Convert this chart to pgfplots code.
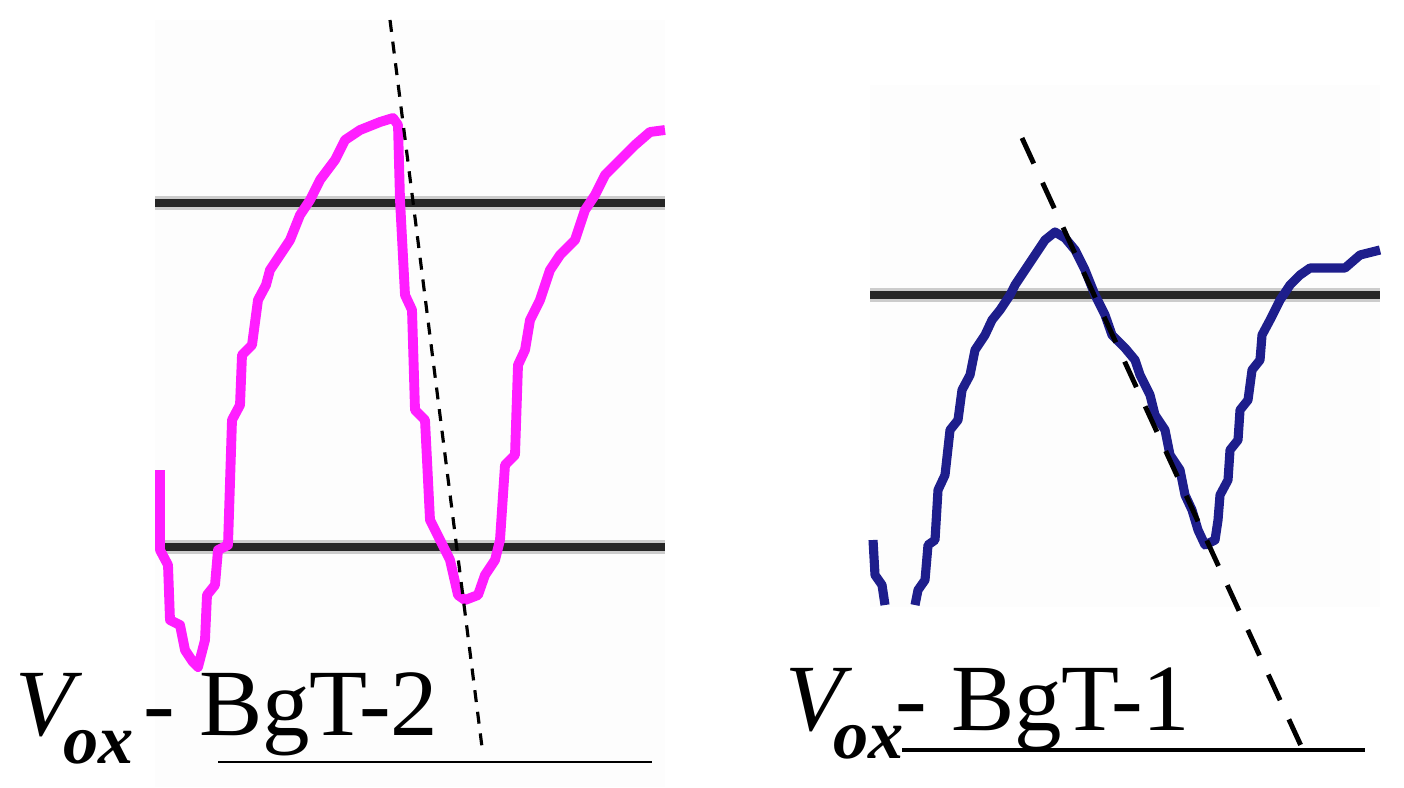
\documentclass[border=0pt]{standalone}
\usepackage{pgfplots}
\pgfplotsset{compat=1.18}
\usepackage{fontspec}
\setmainfont{Liberation Serif}

% pixel grid of the reference: x 0..1404, y 0..787 (y measured upward)
\definecolor{magtrace}{RGB}{255,30,255}
\definecolor{bluetrace}{RGB}{30,30,140}
\definecolor{bgfaint}{RGB}{253,253,253}

\begin{document}
\begin{tikzpicture}
\begin{axis}[
  scale only axis, width=14.04cm, height=7.87cm,
  xmin=0, xmax=1404, ymin=0, ymax=787,
  hide axis, clip=false,
]
% faint panel backgrounds
\addplot[fill=bgfaint, draw=none] coordinates {(155,0) (665,0) (665,767) (155,767)} \closedcycle;
\addplot[fill=bgfaint, draw=none] coordinates {(870,180) (1380,180) (1380,702) (870,702)} \closedcycle;
\addplot[draw=none] coordinates {(0,0) (1404,787)};

% reference levels, left panel
\addplot[gray!40, line width=3.8pt] coordinates {(155,584) (665,584)};
\addplot[black!85, line width=2.1pt] coordinates {(155,584) (665,584)};
\addplot[gray!40, line width=3.8pt] coordinates {(160,240) (665,240)};
\addplot[black!85, line width=2.1pt] coordinates {(160,240) (665,240)};
% reference level, right panel
\addplot[gray!40, line width=3.8pt] coordinates {(870,492) (1380,492)};
\addplot[black!85, line width=2.1pt] coordinates {(870,492) (1380,492)};

% V_ox trace, BgT-2
\addplot[magtrace, line width=2.8pt, line join=round] coordinates {
(160,317) (160,237) (168,222) (170,167) (180,162) (185,137) (193,125) (198,120)
(205,147) (207,192) (215,202) (218,237) (228,242) (232,367) (240,382) (242,432)
(252,442) (258,487) (266,502) (270,517) (280,532) (290,547) (300,572) (310,587)
(320,607) (335,627) (345,647) (360,657) (380,665) (393,669)
(398,662) (400,587) (405,492) (412,477) (415,377) (425,367) (430,267) (440,247)
(450,227) (458,192) (465,187) (478,192) (485,212) (495,227) (500,247) (505,322)
(515,332) (518,422) (525,437) (530,467) (540,487) (550,517) (560,532) (575,547)
(585,577) (595,592) (605,612) (620,627) (635,642) (650,655) (665,657)
};

% V_ox trace, BgT-1
\addplot[bluetrace, line width=2.6pt, line join=round] coordinates {
(873,247) (875,212) (882,202) (885,182)
};
\addplot[bluetrace, line width=2.6pt, line join=round] coordinates {
(915,182) (918,197) (925,207) (928,242) (935,247) (938,297) (945,312) (950,357)
(958,367) (962,397) (970,412) (975,437) (985,452) (992,467) (1000,477) (1010,492)
(1015,502) (1025,517) (1035,532) (1045,547) (1055,555) (1065,549) (1075,537)
(1085,517) (1095,492) (1105,472) (1112,452) (1125,439) (1135,427) (1140,412)
(1150,392) (1155,372) (1165,357) (1170,332) (1180,317) (1185,292) (1192,277)
(1198,257) (1205,242) (1215,247) (1218,267) (1220,292) (1228,307) (1230,337)
(1238,347) (1240,377) (1248,387) (1252,417) (1260,427) (1262,452) (1270,467)
(1280,487) (1290,502) (1300,512) (1310,519) (1345,519) (1360,532) (1380,537)
};

% tangent lines
\addplot[black, line width=0.9pt, dash pattern=on 3.4pt off 2.8pt] coordinates {(390,767) (483,32)};
\addplot[black, line width=1.4pt, dash pattern=on 8pt off 6pt] coordinates {(1022,649) (1302,39)};

% base lines
\addplot[black, line width=0.7pt] coordinates {(218,25) (652,25)};
\addplot[black, line width=1.4pt] coordinates {(902,37) (1365,37)};

% labels
\node[anchor=base west, inner sep=0pt, font=\fontsize{27}{30}\selectfont] at (axis cs:15,52)
  {\textit{V}\kern-0.2em\raisebox{-0.3em}{\fontsize{20}{24}\selectfont\itshape\bfseries ox}};
\node[anchor=base west, inner sep=0pt, font=\fontsize{27}{30}\selectfont] at (axis cs:143,52) {- BgT-2};
\node[anchor=base west, inner sep=0pt, font=\fontsize{27}{30}\selectfont] at (axis cs:785,57)
  {\textit{V}\kern-0.2em\raisebox{-0.3em}{\fontsize{20}{24}\selectfont\itshape\bfseries ox}};
\node[anchor=base west, inner sep=0pt, font=\fontsize{27}{30}\selectfont] at (axis cs:895,57) {- BgT-1};
\end{axis}
\end{tikzpicture}
\end{document}
